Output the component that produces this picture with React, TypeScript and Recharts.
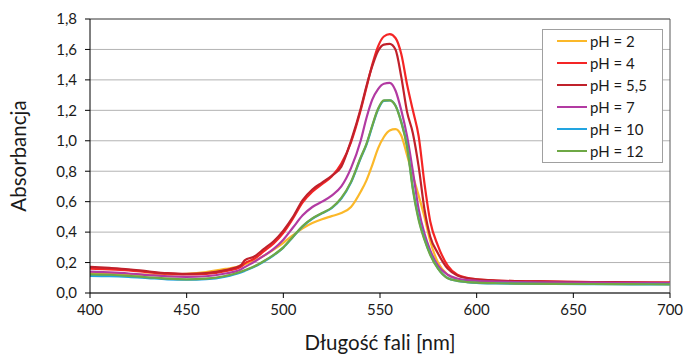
import {
  LineChart, Line, XAxis, YAxis, CartesianGrid, Legend, ReferenceLine,
} from 'recharts';

// wavelength grid [nm] (denser around the band)
const wavelengths = [
  400, 410, 420, 430, 440, 450, 460, 470, 478, 480,
  485, 490, 495, 500, 505, 510, 515, 520, 525, 530, 535, 540,
  543, 546, 549, 552, 555, 558, 561, 564, 567, 570,
  573, 576, 580, 585, 590, 595, 600,
  610, 620, 640, 660, 680, 700,
];

const ph2 = [
  0.130, 0.128, 0.124, 0.121, 0.121, 0.126, 0.138, 0.158, 0.178, 0.188,
  0.21, 0.245, 0.285, 0.33, 0.38, 0.425, 0.46, 0.485, 0.505, 0.525, 0.565, 0.665,
  0.74, 0.84, 0.95, 1.025, 1.068, 1.077, 1.035, 0.905, 0.77, 0.64,
  0.5, 0.34, 0.2, 0.12, 0.09, 0.08, 0.075,
  0.07, 0.068, 0.066, 0.064, 0.063, 0.062,
];
const ph4 = [
  0.160, 0.155, 0.148, 0.137, 0.127, 0.122, 0.126, 0.143, 0.172, 0.195,
  0.225, 0.275, 0.325, 0.395, 0.49, 0.595, 0.665, 0.715, 0.765, 0.85, 0.99, 1.2,
  1.35, 1.5, 1.62, 1.685, 1.70, 1.675, 1.57, 1.37, 1.2, 1.03,
  0.72, 0.47, 0.31, 0.18, 0.12, 0.10, 0.09,
  0.082, 0.078, 0.075, 0.072, 0.07, 0.069,
];
const ph55 = [
  0.172, 0.165, 0.156, 0.142, 0.13, 0.125, 0.13, 0.15, 0.182, 0.215,
  0.24, 0.29, 0.34, 0.41, 0.50, 0.61, 0.68, 0.725, 0.77, 0.83, 1.0, 1.21,
  1.36, 1.49, 1.59, 1.632, 1.636, 1.6, 1.42, 1.19, 1.05, 0.83,
  0.55, 0.37, 0.26, 0.16, 0.115, 0.098, 0.09,
  0.082, 0.078, 0.075, 0.072, 0.07, 0.068,
];
const ph7 = [
  0.14, 0.135, 0.128, 0.118, 0.109, 0.106, 0.11, 0.128, 0.155, 0.17,
  0.205, 0.245, 0.29, 0.35, 0.43, 0.51, 0.565, 0.60, 0.64, 0.70, 0.82, 1.0,
  1.15, 1.27, 1.34, 1.375, 1.38, 1.33, 1.2, 1.03, 0.8, 0.55,
  0.39, 0.28, 0.18, 0.12, 0.095, 0.085, 0.08,
  0.075, 0.072, 0.07, 0.068, 0.066, 0.065,
];
const ph10 = [
  0.113, 0.111, 0.106, 0.098, 0.09, 0.087, 0.091, 0.108, 0.135, 0.145,
  0.172, 0.207, 0.248, 0.298, 0.368, 0.438, 0.488, 0.523, 0.558, 0.62, 0.725, 0.885,
  0.975, 1.095, 1.205, 1.262, 1.265, 1.232, 1.125, 0.97, 0.69, 0.49,
  0.355, 0.255, 0.162, 0.098, 0.08, 0.072, 0.067,
  0.063, 0.061, 0.059, 0.058, 0.057, 0.056,
];
const ph12 = [
  0.123, 0.12, 0.113, 0.103, 0.094, 0.09, 0.094, 0.112, 0.14, 0.15,
  0.175, 0.21, 0.25, 0.30, 0.37, 0.44, 0.49, 0.525, 0.56, 0.625, 0.73, 0.89,
  0.98, 1.1, 1.21, 1.265, 1.265, 1.23, 1.12, 0.96, 0.68, 0.48,
  0.35, 0.25, 0.16, 0.097, 0.08, 0.072, 0.068,
  0.064, 0.062, 0.06, 0.059, 0.058, 0.057,
];

const xTicks = [400, 450, 500, 550, 600, 650, 700];
const yTicks = [0, 0.2, 0.4, 0.6, 0.8, 1.0, 1.2, 1.4, 1.6, 1.8];

const seriesList = [
  { key: 'ph2', name: 'pH = 2', color: '#FBB829', values: ph2 },
  { key: 'ph4', name: 'pH = 4', color: '#F42525', values: ph4 },
  { key: 'ph55', name: 'pH = 5,5', color: '#C0212B', values: ph55 },
  { key: 'ph7', name: 'pH = 7', color: '#B23AA2', values: ph7 },
  { key: 'ph10', name: 'pH = 10', color: '#22A4E0', values: ph10 },
  { key: 'ph12', name: 'pH = 12', color: '#6EA845', values: ph12 },
];

const chartData = wavelengths.map((nm, i) => {
  const row: Record<string, number> = { nm };
  seriesList.forEach((s) => { row[s.key] = s.values[i]; });
  return row;
});

const FONT = 'Lato, "Liberation Sans", sans-serif';

function fmtY(v: number): string {
  return v.toFixed(1).replace('.', ',');
}

// legend keeps the series order (Recharts would sort it by name)
function LegendBox() {
  return (
    <div
      style={{
        border: '1px solid #a0a0a0', background: '#fff',
        fontFamily: FONT, fontSize: 15, color: '#1a1a1a',
      }}
    >
      {seriesList.map((s) => (
        <div key={s.key} style={{ display: 'flex', alignItems: 'center', height: 22 }}>
          <span
            style={{
              display: 'inline-block', width: 30, height: 2, background: s.color,
              marginLeft: 14, marginRight: 3,
            }}
          />
          <span>{s.name}</span>
        </div>
      ))}
    </div>
  );
}

function YTitle({ viewBox }: any) {
  const cx = 18;
  const cy = viewBox.y + viewBox.height / 2;
  return (
    <text
      x={cx} y={cy} transform={`rotate(-90, ${cx}, ${cy})`}
      textAnchor="middle" dominantBaseline="central"
      fontFamily={FONT} fontSize={20.5} fill="#1a1a1a"
    >
      Absorbancja
    </text>
  );
}

export default function App() {
  return (
    <div style={{ position: 'absolute', left: 0, top: 0, background: '#fff' }}>
      <LineChart
        width={684} height={356} data={chartData}
        margin={{ top: 19, right: 14, left: 0, bottom: 0 }}
      >
        <CartesianGrid vertical={false} stroke="#b3b3b3" />
        <XAxis
          dataKey="nm" type="number" domain={[400, 700]} ticks={xTicks}
          height={63} tickSize={5} tickMargin={6}
          axisLine={{ stroke: '#000' }} tickLine={{ stroke: '#000' }}
          tick={{ fill: '#1a1a1a', fontSize: 15, fontFamily: FONT }}
          label={{
            value: 'Długość fali [nm]', position: 'insideBottom', offset: 6,
            fontSize: 20.5, fontFamily: FONT, fill: '#1a1a1a',
          }}
        />
        <YAxis
          type="number" domain={[0, 1.8]} ticks={yTicks} width={90}
          tickSize={5} tickMargin={8} tickFormatter={fmtY}
          axisLine={{ stroke: '#000' }} tickLine={{ stroke: '#000' }}
          tick={{ fill: '#1a1a1a', fontSize: 15, fontFamily: FONT }}
          label={{ content: YTitle }}
        />
        <ReferenceLine y={1.8} stroke="#595959" />
        <ReferenceLine x={700} stroke="#595959" />
        <Legend
          layout="horizontal" verticalAlign="middle"
          wrapperStyle={{ top: 29, left: 542, width: 121 }}
          content={LegendBox}
        />
        {seriesList.map((s) => (
          <Line
            key={s.key} type="monotone" dataKey={s.key} name={s.name}
            stroke={s.color} strokeWidth={2.2} dot={false}
            isAnimationActive={false}
          />
        ))}
      </LineChart>
    </div>
  );
}
